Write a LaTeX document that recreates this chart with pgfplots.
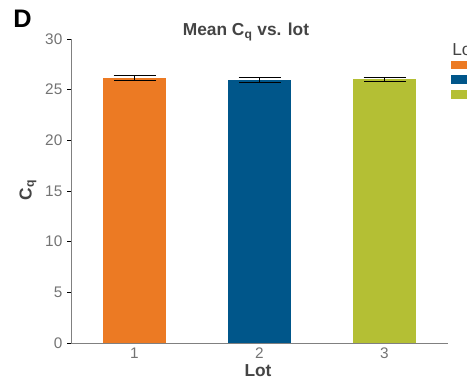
\documentclass[border=0pt]{standalone}
\usepackage{pgfplots}
\pgfplotsset{compat=1.18}
\usepackage{fontspec}
\setmainfont{Liberation Sans}
\definecolor{cOrange}{RGB}{236,122,35}
\definecolor{cBlue}{RGB}{0,86,138}
\definecolor{cGreen}{RGB}{180,191,52}
\definecolor{axgray}{RGB}{128,128,128}
\definecolor{tickgray}{RGB}{115,115,115}
\definecolor{txtgray}{RGB}{68,68,68}
\begin{document}
\begin{tikzpicture}
\begin{axis}[
  at={(53.25pt,-257.25pt)}, anchor=south west,
  scale only axis, width=282.75pt, height=228pt,
  xmin=0.492, xmax=3.508, ymin=0, ymax=30,
  axis x line*=bottom, axis y line*=left,
  axis line style={draw=axgray, line width=0.75pt, -},
  xtick={1,2,3}, ytick={0,5,...,30},
  x tick style={draw=none},
  y tick style={draw=black, line width=0.75pt},
  tick align=outside, major tick length=3pt,
  x tick label style={yshift=3pt},
  tick label style={font=\fontsize{11.5}{13}\selectfont, text=tickgray},
  /pgf/number format/assume math mode=true,
  clip=false,
]
\addplot[ybar, bar width=0.504, bar shift=0pt, fill=cOrange, draw=none,
  error bars/.cd, y dir=both, y explicit,
  error bar style={black, line width=0.8pt},
  error mark options={black, rotate=90, mark size=15.75pt, line width=0.8pt}]
  coordinates {(1,26.12) +- (0,0.26)};
\addplot[ybar, bar width=0.504, bar shift=0pt, fill=cBlue, draw=none,
  error bars/.cd, y dir=both, y explicit,
  error bar style={black, line width=0.8pt},
  error mark options={black, rotate=90, mark size=15.75pt, line width=0.8pt}]
  coordinates {(2,25.95) +- (0,0.27)};
\addplot[ybar, bar width=0.504, bar shift=0pt, fill=cGreen, draw=none,
  error bars/.cd, y dir=both, y explicit,
  error bar style={black, line width=0.8pt},
  error mark options={black, rotate=90, mark size=15.75pt, line width=0.8pt}]
  coordinates {(3,26.02) +- (0,0.18)};
\end{axis}
% titles and labels
\node[font=\fontsize{19}{22}\selectfont\bfseries] at (16.9pt,-14.25pt) {D};
\node[font=\fontsize{13}{15}\selectfont\bfseries, text=txtgray] at (184.5pt,-24pt) {Mean C\textsubscript{q} vs. lot};
\node[font=\fontsize{13}{15}\selectfont\bfseries, text=txtgray] at (193.5pt,-278pt) {Lot};
\node[font=\fontsize{13}{15}\selectfont\bfseries, text=txtgray, rotate=90] at (21pt,-142.5pt) {C\textsubscript{q}};
% legend (clipped at the right edge, as in the reference)
\node[font=\fontsize{13}{15}\selectfont, text=txtgray, anchor=west, inner sep=0pt] at (339pt,-37pt) {Lot};
\fill[cOrange] (338.25pt,-45.75pt) rectangle (360pt,-52.1pt);
\fill[cBlue] (338.25pt,-56.6pt) rectangle (360pt,-63pt);
\fill[cGreen] (338.25pt,-67.5pt) rectangle (360pt,-73.9pt);
\pgfresetboundingbox
\path[use as bounding box] (0pt,0pt) rectangle (350.25pt,-285pt);
\end{tikzpicture}
\end{document}
